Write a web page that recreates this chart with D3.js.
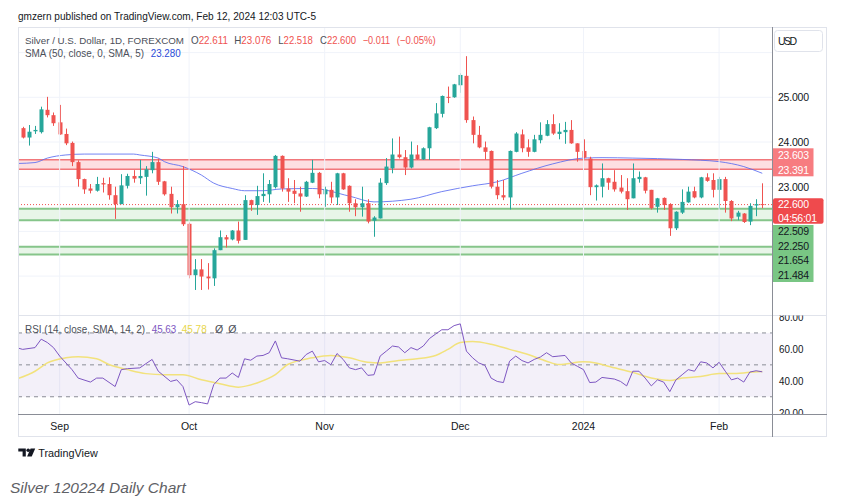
<!DOCTYPE html>
<html><head><meta charset="utf-8">
<script src="https://cdn.jsdelivr.net/npm/d3@7/dist/d3.min.js"></script>
<style>
body{margin:0;background:#fff;}
text{font-family:"Liberation Sans",Arial,sans-serif;}
</style></head><body>
<svg id="c" width="844" height="502"></svg>
<script>
// ---- data (bar index 1 = Aug 24 2023 ... 121 = Feb 12 2024) ----
const opens=[24.31,24.10,24.24,24.22,24.72,24.60,24.44,24.18,23.98,23.55,23.17,22.96,22.91,23.08,23.06,22.81,22.61,23.02,23.24,23.19,
23.22,23.37,23.55,23.12,22.84,22.54,22.61,22.17,21.02,21.15,20.99,20.95,21.58,21.87,21.82,22.02,21.81,22.70,22.59,22.79,
22.83,22.99,23.69,22.96,22.91,22.85,22.78,23.09,23.31,22.83,22.93,22.76,23.30,23.02,22.63,22.54,22.63,22.24,22.29,23.08,
23.41,23.72,23.66,23.43,23.72,23.61,23.86,24.31,24.63,25.01,25.00,25.27,25.48,24.49,24.16,23.88,23.80,23.00,22.81,22.76,
23.78,24.17,23.88,23.78,24.04,24.14,24.40,24.18,24.22,24.27,23.97,23.80,23.63,22.99,23.00,23.19,23.11,22.98,22.90,22.74,
23.17,23.21,22.93,22.55,22.75,22.61,22.07,22.42,22.65,22.90,22.76,23.21,23.15,22.93,23.17,22.68,22.33,22.40,22.22,22.58,22.611];
const highs=[24.34,24.38,24.36,24.79,25.01,24.66,24.83,24.30,24.01,23.59,23.18,23.06,23.22,23.20,23.21,23.00,23.28,23.29,23.37,23.60,
23.46,23.78,23.63,23.13,23.00,22.70,23.46,22.20,21.38,21.38,21.29,21.62,22.02,21.92,22.03,22.22,22.81,22.71,23.02,23.30,
23.15,23.71,23.70,23.19,23.15,23.00,23.13,23.60,23.33,23.00,23.11,23.31,23.31,23.03,22.72,23.00,22.72,22.34,23.19,23.64,
24.08,24.12,23.82,24.01,23.93,23.88,24.34,24.87,25.04,25.24,25.30,25.54,25.92,24.57,24.36,24.01,23.81,23.15,23.15,23.81,
24.22,24.28,24.06,24.16,24.44,24.49,24.62,24.42,24.45,24.49,23.97,24.06,23.67,23.05,23.52,23.20,23.37,23.26,23.19,23.52,
23.34,23.22,22.93,22.75,22.76,22.63,22.45,22.94,23.00,23.00,23.22,23.30,23.30,23.22,23.22,22.70,22.46,22.41,22.63,22.72,23.076];
const lows=[24.08,23.92,24.18,24.19,24.55,24.36,24.16,23.93,23.46,23.00,22.84,22.85,22.89,22.87,22.71,22.28,22.61,22.96,23.09,23.06,
22.80,23.30,23.04,22.80,22.40,22.40,22.12,20.95,20.69,20.69,20.70,20.78,21.58,21.64,21.80,21.73,21.81,22.46,22.37,22.66,
22.64,22.96,22.89,22.66,22.63,22.44,22.77,23.08,22.74,22.55,22.63,22.59,22.93,22.44,22.34,22.33,22.18,21.88,22.29,23.04,
23.30,23.63,23.26,23.41,23.60,23.60,23.60,24.29,24.55,24.87,24.99,25.10,24.43,23.97,23.86,23.61,22.96,22.72,22.70,22.49,
23.77,23.77,23.67,23.77,23.97,24.13,24.16,24.06,23.96,23.96,23.56,23.63,22.81,22.69,22.76,22.93,22.89,22.85,22.48,22.74,
23.09,22.85,22.49,22.42,22.48,21.90,22.03,22.39,22.64,22.74,22.74,23.11,22.76,22.50,22.42,22.23,22.25,22.19,22.14,22.34,22.518];
const closes=[24.10,24.23,24.27,24.73,24.60,24.42,24.17,23.97,23.55,23.17,22.94,22.91,23.06,23.05,22.81,22.61,23.03,23.24,23.18,23.24,
23.39,23.55,23.11,22.83,22.54,22.61,22.16,21.02,21.15,20.99,20.95,21.58,21.87,21.82,22.02,21.79,22.70,22.59,22.79,22.84,
23.06,23.69,22.96,22.89,22.84,22.78,23.11,23.31,22.83,22.94,22.76,23.30,22.94,22.63,22.54,22.63,22.22,22.31,23.09,23.45,
23.72,23.66,23.43,23.72,23.62,23.86,24.33,24.64,25.03,24.99,25.29,25.50,24.49,24.16,23.88,23.78,23.00,22.81,22.76,23.80,
24.19,23.86,23.78,24.06,24.16,24.40,24.19,24.23,24.27,23.97,23.78,23.65,22.99,23.03,23.19,23.09,22.94,22.89,22.72,23.19,
23.22,22.91,22.52,22.74,22.59,22.07,22.44,22.66,22.89,22.76,23.21,23.13,22.93,23.17,22.68,22.29,22.42,22.21,22.57,22.61,22.600];

// SMA(50) (bar index, value)
const smaIdx=[0.3,3,5,8,11,15,19,20,23,24,27,30,32,35,37,40,43,48,54,58,64,69,74,78,82,87,92,95,100,108,114,118,121];
const smaVal=[23.52,23.54,23.64,23.71,23.73,23.73,23.73,23.71,23.64,23.56,23.45,23.26,23.08,22.96,22.91,22.91,22.95,22.96,22.79,22.66,22.72,22.89,23.02,23.11,23.30,23.51,23.64,23.65,23.64,23.61,23.56,23.45,23.30];

// RSI(14)
const rsiIdx=[0,1,3,4,5,6,7,9,10,12,13,14,16,17,18,20,22,23,25,26,27,28,29,30,31,32,33,34,35,36,37,38,39,40,41,42,43,44,46,47,48,49,50,51,52,53,54,55,56,57,58,59,60,61,62,63,64,65,66,67,68,69,70,71,72,73,74,75,76,77,78,79,80,81,82,83,84,85,86,87,88,89,90,91,92,93,94,95,97,98,99,100,101,102,103,104,105,106,107,108,109,110,111,112,113,114,115,116,117,118,119,120,121];
const rsiVal=[60.8,59.7,60.8,66.1,64,60.8,55.5,47,41.7,39.2,41.7,41.7,36.4,47,47.6,48.1,53.4,46,39.6,40.6,36.4,24.8,26.9,26.3,25.5,37.6,41.7,41.7,44.9,42.1,53.8,52.9,55.5,55.9,57.6,65,54.4,53.8,52.3,56.5,58.6,51.9,52.7,50.1,57.1,53.4,48.1,47,48.1,43.4,43.8,55.5,58.6,61.8,61.2,57.6,60.8,59.3,61.8,66.5,69.3,72,72,74.6,75.7,58.6,54.4,51.2,49.7,41.7,39.6,38.9,52.3,55.5,52.7,51.2,53.4,54.9,57.6,55.1,55.5,55.9,51.2,49.1,47,38.9,39.2,42.1,41.1,39.6,36.8,46,46,41.7,36.8,40.6,39.2,33.2,40.6,43.8,47,46,51.9,51.2,48.1,51.6,46,40.6,41.7,39.2,45.5,46.3,45.63];
// RSI-based SMA(14)
const maIdx=[0,3,5,8,10,13,15,18,21,24,27,30,33,36,39,42,44,48,51,54,57,59,62,65,68,70,72,74,77,80,83,86,88,92,94,96,100,103,106,108,111,114,116,119,121];
const maVal=[41.1,46,51.2,54.4,55.1,53.8,50.2,47,44.5,43.8,43.8,40.6,38.1,36,38.6,43.8,50.2,54.4,55.9,54.4,51.6,51.2,52.7,53.8,55.9,59.7,64,64.6,62.9,59.7,56.5,52.3,50.2,51.9,51.2,49.1,45.3,41.7,40.2,41.7,42.7,44.5,44.5,45.3,45.78];

// horizontal zones
const redZone=[23.391,23.603];
const greenZones=[[22.250,22.509],[21.484,21.654]];
const lastPrice=22.600;
const priceTicks=[25,24,23];
const priceGrid=[21,22,23,24,25,26];
const rsiTicks=[80,60,40,20];
const rsiLevels=[70,50,30];
const monthLabels=["Sep","Oct","Nov","Dec","2024","Feb"];
const monthIdx=[7,28,50,72,92,114];

// ---- drawing ----
const svg=d3.select("#c");
const L=18,R=772,TOP=27,SEP=315,BOT=414,BOXR=827,BOXB=437;
const x=d3.scaleLinear().domain([0.24,122.58]).range([L,R]);
const y=d3.scaleLinear().domain([21,25]).range([276.1,97.3]);
const yr=d3.scaleLinear().domain([20,80]).range([412.7,317]);
const RED="#ef5350",GREEN="#26a69a",TXT="#131722",LEG="#4c4f59";
const AX=778;

const defs=svg.append("defs");
defs.append("clipPath").attr("id","cm").append("rect").attr("x",L).attr("y",TOP).attr("width",R-L).attr("height",SEP-TOP);
defs.append("clipPath").attr("id","cr").append("rect").attr("x",L).attr("y",SEP).attr("width",R-L).attr("height",BOT-SEP);
defs.append("clipPath").attr("id","ca").append("rect").attr("x",R).attr("y",SEP+0.5).attr("width",BOXR-R).attr("height",BOT-SEP-0.5);

svg.append("text").attr("x",18).attr("y",19.5).attr("font-size",10.5).attr("fill","#131722")
  .attr("textLength",298).attr("lengthAdjust","spacingAndGlyphs")
  .text("gmzern published on TradingView.com, Feb 12, 2024 12:03 UTC-5");

// grid
const gm=svg.append("g").attr("clip-path","url(#cm)");
gm.selectAll(".hg").data(priceGrid).join("line").attr("x1",L).attr("x2",R)
  .attr("y1",d=>y(d)).attr("y2",d=>y(d)).attr("stroke","#f0f3fa").attr("stroke-width",1);
svg.append("g").selectAll("line").data(monthIdx).join("line")
  .attr("x1",d=>x(d)).attr("x2",d=>x(d)).attr("y1",TOP).attr("y2",BOT)
  .attr("stroke","#f0f3fa").attr("stroke-width",1);

// zones
gm.append("rect").attr("x",L).attr("width",R-L).attr("y",y(redZone[1])).attr("height",y(redZone[0])-y(redZone[1]))
  .attr("fill","rgba(242,54,69,0.16)");
[redZone[0],redZone[1]].forEach(v=>gm.append("line").attr("x1",L).attr("x2",R).attr("y1",y(v)).attr("y2",y(v))
  .attr("stroke","#f1777b").attr("stroke-width",1.6));
greenZones.forEach(z=>{
  gm.append("rect").attr("x",L).attr("width",R-L).attr("y",y(z[1])).attr("height",y(z[0])-y(z[1]))
    .attr("fill","rgba(76,175,80,0.13)");
  z.forEach(v=>gm.append("line").attr("x1",L).attr("x2",R).attr("y1",y(v)).attr("y2",y(v))
    .attr("stroke","#86c58a").attr("stroke-width",2));
});

// SMA
gm.append("path").datum(smaIdx.map((d,i)=>[d,smaVal[i]]))
  .attr("d",d3.line().x(d=>x(d[0])).y(d=>y(d[1])).curve(d3.curveMonotoneX))
  .attr("fill","none").attr("stroke","#5b6cf0").attr("stroke-width",1).attr("opacity",0.85);

// last price dotted line
gm.append("line").attr("x1",L).attr("x2",R).attr("y1",y(lastPrice)).attr("y2",y(lastPrice))
  .attr("stroke",RED).attr("stroke-width",1).attr("stroke-dasharray","1,2");

// candles
const bars=opens.map((o,i)=>({i:i+1,o,h:highs[i],l:lows[i],c:closes[i]}));
const cg=gm.append("g");
cg.selectAll(".w").data(bars).join("line")
  .attr("x1",d=>Math.round(x(d.i))+0.5).attr("x2",d=>Math.round(x(d.i))+0.5)
  .attr("y1",d=>y(d.h)).attr("y2",d=>y(d.l))
  .attr("stroke",d=>d.c>=d.o?GREEN:RED).attr("stroke-width",1);
cg.selectAll(".b").data(bars).join("rect")
  .attr("x",d=>Math.round(x(d.i))-1.5).attr("width",4)
  .attr("y",d=>y(Math.max(d.o,d.c))).attr("height",d=>Math.max(1,Math.abs(y(d.o)-y(d.c))))
  .attr("fill",d=>d.c>=d.o?GREEN:RED);

// legend
const lg=svg.append("g").attr("font-size",10.5);
lg.append("text").attr("x",25).attr("y",43.5).attr("fill",LEG).attr("font-size",9.6).attr("textLength",159).attr("lengthAdjust","spacingAndGlyphs")
  .text("Silver / U.S. Dollar, 1D, FOREXCOM");
const ohlc=[["O","22.611",191,37],["H","23.076",234.3,37],["L","22.518",278.3,34.5],["C","22.600",320,36]];
ohlc.forEach(([k,v,px,w])=>{
  const t=lg.append("text").attr("x",px).attr("y",43.5).attr("textLength",w).attr("lengthAdjust","spacingAndGlyphs");
  t.append("tspan").attr("fill",LEG).text(k);
  t.append("tspan").attr("fill",RED).text(v);
});
lg.append("text").attr("x",362.7).attr("y",43.5).attr("fill",RED).attr("textLength",27.5).attr("lengthAdjust","spacingAndGlyphs").text("−0.011");
lg.append("text").attr("x",396.7).attr("y",43.5).attr("fill",RED).attr("textLength",39).attr("lengthAdjust","spacingAndGlyphs").text("(−0.05%)");
lg.append("text").attr("x",25).attr("y",57).attr("fill",LEG).attr("textLength",119).attr("lengthAdjust","spacingAndGlyphs")
  .text("SMA (50, close, 0, SMA, 5)");
lg.append("text").attr("x",150.7).attr("y",57).attr("fill","#2a4bd7").attr("textLength",30).attr("lengthAdjust","spacingAndGlyphs").text("23.280");

// ---- RSI pane ----
const gr=svg.append("g").attr("clip-path","url(#cr)");
gr.append("rect").attr("x",L).attr("width",R-L).attr("y",yr(70)).attr("height",yr(30)-yr(70)).attr("fill","rgba(126,87,194,0.09)");
gr.selectAll(".lv").data(rsiLevels).join("line").attr("x1",L).attr("x2",R).attr("y1",d=>yr(d)).attr("y2",d=>yr(d))
  .attr("stroke","#8a8d96").attr("stroke-width",1).attr("stroke-dasharray","4,4");
gr.append("path").datum(maIdx.map((d,i)=>[d,maVal[i]]))
  .attr("d",d3.line().x(d=>x(d[0])).y(d=>yr(d[1])).curve(d3.curveMonotoneX))
  .attr("fill","none").attr("stroke","#f2e27c").attr("stroke-width",1.5);
gr.append("path").datum(rsiIdx.map((d,i)=>[d,rsiVal[i]]))
  .attr("d",d3.line().x(d=>x(d[0])).y(d=>yr(d[1])))
  .attr("fill","none").attr("stroke","#7e57c2").attr("stroke-width",1);

svg.append("text").attr("x",25).attr("y",332.5).attr("font-size",10.5).attr("fill",LEG)
  .attr("textLength",120).attr("lengthAdjust","spacingAndGlyphs").text("RSI (14, close, SMA, 14, 2)");
svg.append("text").attr("x",151.7).attr("y",332.5).attr("font-size",10.5).attr("fill","#7e57c2").attr("textLength",24.5).attr("lengthAdjust","spacingAndGlyphs").text("45.63");
svg.append("text").attr("x",181.7).attr("y",332.5).attr("font-size",10.5).attr("fill","#e8d64a").attr("textLength",25).attr("lengthAdjust","spacingAndGlyphs").text("45.78");
svg.append("text").attr("x",215).attr("y",332.5).attr("font-size",10.5).attr("fill",LEG).text("Ø");
svg.append("text").attr("x",228.3).attr("y",332.5).attr("font-size",10.5).attr("fill",LEG).text("Ø");

// frame lines
svg.append("line").attr("x1",L).attr("x2",BOXR).attr("y1",TOP+0.5).attr("y2",TOP+0.5).attr("stroke","#e0e3eb");
svg.append("line").attr("x1",L+0.5).attr("x2",L+0.5).attr("y1",TOP).attr("y2",BOXB).attr("stroke","#e0e3eb");
svg.append("line").attr("x1",BOXR-0.5).attr("x2",BOXR-0.5).attr("y1",TOP).attr("y2",BOXB).attr("stroke","#e0e3eb");
svg.append("line").attr("x1",L).attr("x2",BOXR).attr("y1",BOXB-0.5).attr("y2",BOXB-0.5).attr("stroke","#e0e3eb");
svg.append("line").attr("x1",L).attr("x2",BOXR).attr("y1",SEP+0.5).attr("y2",SEP+0.5).attr("stroke","#e0e3eb");
svg.append("line").attr("x1",L).attr("x2",BOXR).attr("y1",BOT+0.5).attr("y2",BOT+0.5).attr("stroke","#8a8d96");
svg.append("line").attr("x1",R+0.5).attr("x2",R+0.5).attr("y1",TOP).attr("y2",BOXB).attr("stroke","#8a8d96");

// price axis
const ax=svg.append("g").attr("font-size",10.5).attr("lengthAdjust","spacingAndGlyphs");
ax.append("rect").attr("x",774.5).attr("y",30.5).attr("width",48).attr("height",21).attr("rx",3)
  .attr("fill","#fff").attr("stroke","#e0e3eb");
ax.append("text").attr("x",AX).attr("y",45).attr("fill",TXT).attr("textLength",19).text("USD");
ax.selectAll(".pt").data(priceTicks).join("text").attr("x",AX).attr("y",d=>y(d)+3.8).attr("fill",TXT)
  .attr("textLength",31).text(d=>d3.format(".3f")(d));
// zone labels
ax.append("rect").attr("x",R+1).attr("y",148.3).attr("width",40.5).attr("height",28).attr("fill","#f77c80");
ax.append("text").attr("x",AX).attr("y",159).attr("fill","#fff").attr("textLength",31).text(d3.format(".3f")(redZone[1]));
ax.append("text").attr("x",AX).attr("y",173.5).attr("fill","#fff").attr("textLength",31).text(d3.format(".3f")(redZone[0]));
ax.append("rect").attr("x",R+1).attr("y",198.3).attr("width",50.5).attr("height",25.5).attr("rx",2).attr("fill","#ef4a4d");
ax.append("text").attr("x",AX).attr("y",208.3).attr("fill","#fff").attr("textLength",31).text(d3.format(".3f")(lastPrice));
ax.append("text").attr("x",AX).attr("y",222).attr("fill","#fff").attr("textLength",39).text("04:56:01");
ax.append("rect").attr("x",R+1).attr("y",225).attr("width",40.5).attr("height",57).attr("fill","#79c684");
const gl=[greenZones[0][1],greenZones[0][0],greenZones[1][1],greenZones[1][0]];
const glY=[235,249.7,264.3,279];
gl.forEach((v,i)=>ax.append("text").attr("x",AX).attr("y",glY[i]).attr("fill",TXT).attr("textLength",31).text(d3.format(".3f")(v)));
// rsi axis
svg.append("g").attr("clip-path","url(#ca)").attr("font-size",10.5).selectAll("text").data(rsiTicks).join("text")
  .attr("x",AX+1).attr("y",d=>yr(d)+3.8).attr("fill",TXT).attr("textLength",24.5).attr("lengthAdjust","spacingAndGlyphs")
  .text(d=>d3.format(".2f")(d));

// time axis
svg.append("g").attr("font-size",10.5).selectAll("text").data(monthLabels).join("text")
  .attr("x",(d,i)=>x(monthIdx[i])).attr("y",429.5).attr("text-anchor","middle")
  .attr("fill",TXT).text(d=>d);

// TradingView logo + footer
const lo=svg.append("g").attr("fill","#131722");
lo.append("path").attr("d","M18.3,448.5 h7.5 v8 h-3.2 v-5 h-4.3 z");
lo.append("circle").attr("cx",28.2).attr("cy",450.2).attr("r",1.8);
lo.append("path").attr("d","M30.6,448.5 h4.6 l-3.5,8 h-4.6 z");
svg.append("text").attr("x",38.3).attr("y",456.5).attr("font-size",11).attr("fill","#131722")
  .attr("textLength",59.5).attr("lengthAdjust","spacingAndGlyphs").text("TradingView");
svg.append("text").attr("x",10).attr("y",493).attr("font-size",15.5).attr("font-style","italic")
  .attr("font-family","Roboto, sans-serif").attr("fill","#5f6166").text("Silver 120224 Daily Chart");
</script>
</body></html>
